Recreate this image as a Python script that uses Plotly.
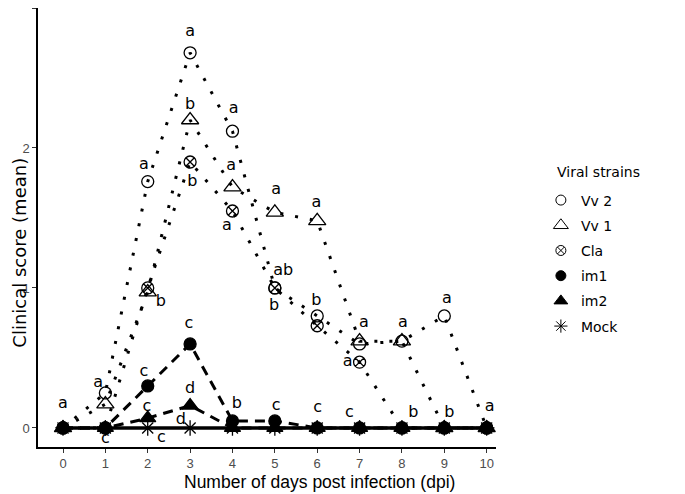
import plotly.graph_objects as go

days = list(range(11))

vv2 = [0, 0.25, 1.76, 2.68, 2.12, 1.00, 0.80, 0.60, 0.62, 0.80, 0]
vv1 = [0, 0.17, 0.97, 2.20, 1.72, 1.54, 1.48, 0.62, 0.62, 0, 0]
cla = [0, 0, 1.00, 1.90, 1.55, 1.00, 0.73, 0.47, 0, 0, 0]
im1 = [0, 0, 0.30, 0.60, 0.05, 0.05, 0, 0, 0, 0, 0]
im2 = [0, 0, 0.07, 0.16, 0, 0, 0, 0, 0, 0, 0]
mock = [0] * 11

# significance letters: day position, score position, letter
letter_x = [0, 0.83, 1.0, 1.91, 2.31, 1.91, 1.98, 2.32, 3.0, 3.0, 3.05, 2.97, 3.0, 2.78,
            4.03, 3.97, 3.87, 4.1, 5.03, 5.2, 4.98, 5.03, 5.98, 5.98, 6.01,
            7.1, 6.72, 6.76, 8.02, 8.27, 9.06, 9.12, 10.07]
letter_y = [0.17, 0.32, -0.08, 1.88, 0.90, 0.40, 0.15, -0.07, 2.83, 2.31, 1.76, 0.74, 0.28, 0.06,
            2.28, 1.87, 1.44, 0.17, 1.70, 1.12, 0.87, 0.16, 1.61, 0.91, 0.14,
            0.75, 0.47, 0.11, 0.75, 0.11, 0.92, 0.11, 0.15]
letters = ["a", "a", "c", "a", "b", "c", "c", "c", "a", "b", "b", "c", "d", "d",
           "a", "a", "a", "b", "a", "ab", "b", "c", "a", "b", "c",
           "a", "a", "c", "a", "b", "a", "b", "a"]

strains = ["Vv 2", "Vv 1", "Cla", "im1", "im2", "Mock"]

series = {
    "Vv 2": (vv2, "circle-open", 12, "3px,12px", 3),
    "Vv 1": (vv1, "triangle-up-open", 15, "3px,12px", 3),
    "Cla": (cla, "circle-x-open", 12, "3px,12px", 3),
    "im1": (im1, "circle", 12, "10px,7px", 3),
    "im2": (im2, "triangle-up", 14, "10px,7px", 3),
    "Mock": (mock, "asterisk-open", 13, "solid", 3.5),
}
legend_size = {"Vv 2": 10, "Vv 1": 13, "Cla": 10, "im1": 10, "im2": 12, "Mock": 11}

fig = go.Figure()

for name in reversed(strains):
    vals, sym, size, dash, lw = series[name]
    fig.add_trace(
        go.Scatter(
            x=days, y=vals, mode="lines+markers", showlegend=False,
            line=dict(color="black", width=lw, dash=dash),
            marker=dict(symbol=sym, size=size, color="black",
                        line=dict(color="black", width=1.3)),
        )
    )

# legend entries (markers only, like the original key)
for name in strains:
    vals, sym, size, dash, lw = series[name]
    fig.add_trace(
        go.Scatter(
            x=[None], y=[None], mode="markers", name=name, legendgroup=name,
            marker=dict(symbol=sym, size=legend_size[name], color="black",
                        line=dict(color="black", width=1)),
        )
    )

fig.add_trace(
    go.Scatter(
        x=letter_x, y=letter_y, text=letters, mode="text", showlegend=False,
        textfont=dict(family="DejaVu Sans", size=16, color="black"),
        hoverinfo="skip",
    )
)

# the page body adds 8px around the figure, margins allow for it
fig.update_layout(
    width=685,
    height=494,
    margin=dict(l=30, r=197, t=0, b=55, autoexpand=False),
    plot_bgcolor="white",
    paper_bgcolor="white",
    font=dict(family="Liberation Sans, Arial", color="black"),
    legend=dict(
        x=1.098, xanchor="left", y=0.598, yanchor="top",
        font=dict(family="DejaVu Sans", size=14),
        tracegroupgap=4,
        itemwidth=30,
        bgcolor="rgba(0,0,0,0)",
    ),
    annotations=[
        dict(text="Viral strains", xref="paper", yref="paper",
             x=1.129, y=0.627, xanchor="left", yanchor="middle", showarrow=False,
             font=dict(size=14, family="DejaVu Sans")),
        dict(text="Number of days post infection (dpi)", xref="paper", yref="paper",
             x=0.6157, y=-0.080, xanchor="center", yanchor="middle", showarrow=False,
             font=dict(size=17.5, family="Liberation Sans, Arial")),
        dict(text="Clinical score (mean)", xref="paper", yref="paper",
             x=-0.040, y=0.442, xanchor="center", yanchor="middle", showarrow=False,
             textangle=-90, font=dict(size=18, family="DejaVu Sans")),
    ],
)

fig.update_xaxes(
    range=[-0.59, 10.22], tickvals=days, showgrid=False, zeroline=False,
    showline=True, linecolor="black", linewidth=1.5, automargin=False,
    ticks="outside", ticklen=4, tickcolor="#333333",
    tickfont=dict(size=13, color="#4d4d4d", family="Liberation Sans, Arial"),
)
fig.update_yaxes(
    range=[-0.136, 3.0], tickvals=[0, 1, 2, 3], showgrid=False, zeroline=False,
    showline=True, linecolor="black", linewidth=1.5, automargin=False,
    ticks="outside", ticklen=4, tickcolor="#333333",
    tickfont=dict(size=13, color="#4d4d4d", family="Liberation Sans, Arial"),
)

fig.write_html("out.html")
